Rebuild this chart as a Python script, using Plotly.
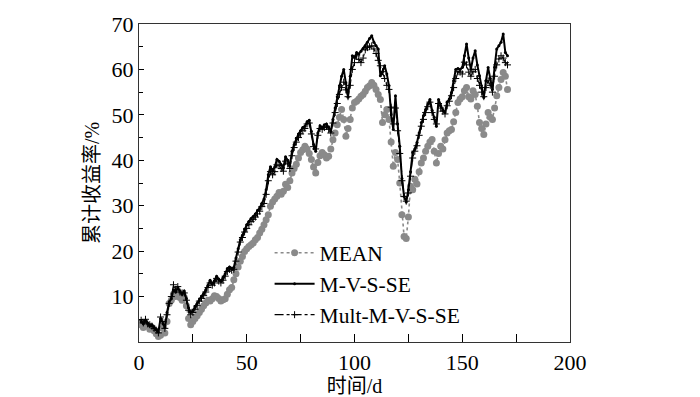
import plotly.graph_objects as go

days = list(range(1, 172))

mean_vals = [
    3.8, 3.2, 4.0, 3.5, 2.8, 3.0, 2.5, 1.8, 1.2, 1.5,
    3.0, 2.0, 4.5, 8.5, 9.2, 10.5, 10.0, 10.8, 9.8, 9.2,
    9.8, 8.0, 5.2, 3.8, 4.5, 5.2, 5.8, 6.5, 7.2, 8.0,
    8.6, 9.2, 9.0, 9.5, 10.2, 10.0, 9.6, 9.0, 9.3, 9.5,
    10.5, 11.5, 12.0, 13.7, 15.0, 16.5, 17.8, 18.8, 19.9, 20.5,
    21.0, 21.4, 21.8, 22.5, 23.0, 24.0, 24.8, 25.8, 26.9, 28.0,
    29.9, 30.8, 31.5, 32.1, 32.9, 32.5, 33.2, 34.7, 34.0, 35.5,
    37.2, 38.2, 39.1, 40.5, 41.7, 42.3, 43.1, 42.5, 41.5, 40.2,
    38.5, 37.2, 39.5, 41.0, 41.7, 41.2, 40.5, 40.9, 42.5, 44.5,
    46.0, 47.8, 49.5, 51.2, 49.0, 45.3, 47.0, 49.0, 51.5, 52.7,
    53.0, 53.5, 54.1, 54.5, 55.2, 56.0, 56.4, 57.1, 56.5, 55.6,
    54.5, 53.4, 48.3, 50.0, 51.2, 49.0, 44.0, 38.7, 41.7, 40.2,
    35.0, 28.0, 23.2, 22.8, 27.5, 34.3, 33.5, 35.8, 34.8, 37.5,
    39.4, 40.5, 42.0, 43.1, 44.0, 44.6, 42.0, 39.4, 41.5, 43.1,
    42.5, 44.5, 46.0, 46.5, 46.8, 48.5, 50.5, 52.7, 53.5, 54.0,
    55.3, 56.0, 54.0, 53.5, 55.3, 54.5, 51.9, 48.3, 47.0, 45.7,
    48.0, 50.5, 49.5, 49.0, 51.5, 54.2, 56.0, 57.8, 59.3, 58.5,
    55.6,
]

mvsse_vals = [
    4.5, 4.0, 4.8, 4.2, 3.5, 3.8, 3.2, 2.8, 2.2, 5.2,
    4.0, 3.2, 6.5, 8.8, 9.5, 11.5, 11.0, 12.0, 11.2, 10.5,
    11.2, 9.6, 7.5, 6.5, 6.8, 7.8, 8.5, 9.2, 10.0, 10.6,
    11.5, 12.5, 13.6, 12.8, 13.5, 14.5, 13.8, 13.4, 14.2, 15.0,
    16.2, 16.5, 16.2, 16.4, 18.5, 20.5, 22.5, 23.5, 24.8, 25.8,
    26.5, 27.2, 27.6, 28.2, 29.0, 29.5, 30.5, 31.5, 33.5, 36.8,
    38.6, 37.8, 38.5, 40.2, 39.8, 39.0, 38.4, 40.8, 40.0, 38.8,
    42.0, 43.5, 44.8, 45.8, 46.5, 47.2, 47.5, 48.5, 48.8, 46.4,
    43.5, 42.0, 46.0, 47.6, 47.2, 47.8, 48.0, 47.2, 46.4, 49.0,
    51.5, 54.0, 56.4, 58.5, 60.0, 57.0, 53.9, 58.5, 63.0, 62.6,
    63.7, 63.4, 64.0, 64.6, 65.2, 66.0, 66.8, 67.4, 66.0, 65.2,
    64.5, 58.6, 59.5, 60.8, 59.0, 56.4, 50.0, 46.8, 54.2, 48.0,
    43.1, 36.0, 32.1, 30.8, 33.5, 37.5, 41.7, 42.5, 43.9, 46.0,
    48.3, 49.8, 51.2, 52.4, 53.4, 51.0, 49.5, 47.5, 53.4, 52.0,
    51.0, 50.5, 52.8, 53.5, 54.9, 57.5, 60.0, 60.2, 60.0, 60.4,
    63.0, 65.6, 62.5, 60.0, 62.5, 64.1, 61.0, 58.6, 56.0, 53.8,
    57.5, 60.4, 58.0, 55.6, 60.5, 64.5, 65.2, 66.0, 67.8, 63.7,
    63.0,
]

mult_vals = [
    4.8, 4.2, 5.0, 4.0, 3.8, 3.5, 3.0, 2.6, 2.0, 5.5,
    4.5, 3.0, 6.0, 8.5, 10.0, 12.6, 11.5, 12.2, 11.0, 10.8,
    10.8, 9.2, 7.0, 6.0, 6.5, 7.2, 8.0, 9.0, 9.6, 10.2,
    11.0, 12.0, 13.0, 12.5, 13.0, 14.0, 13.4, 13.0, 13.6, 14.5,
    15.5, 16.0, 15.8, 16.0, 17.8, 19.8, 22.0, 23.0, 24.2, 25.0,
    25.8, 26.5, 27.0, 27.5, 28.2, 28.8, 29.8, 30.5, 32.5, 35.5,
    37.5, 36.8, 37.5, 39.0, 38.8, 38.2, 37.6, 39.8, 39.2, 38.2,
    41.0, 42.8, 44.0, 45.0, 45.8, 46.5, 47.0, 48.0, 48.2, 45.8,
    43.0, 42.5, 45.5, 47.0, 46.8, 47.2, 47.5, 46.8, 46.0, 48.2,
    50.5, 52.5, 54.5, 56.0, 57.2, 55.5, 54.0, 56.5, 60.0, 61.5,
    63.0, 62.2, 61.5, 62.5, 64.3, 64.8, 65.0, 65.2, 64.5, 63.5,
    62.0, 60.8, 59.5, 58.0, 56.5, 55.6, 51.7, 48.0, 51.5, 46.5,
    41.5, 35.5, 32.0, 31.0, 32.8, 36.5, 40.5, 42.0, 43.2, 45.5,
    47.5, 49.0, 50.5, 51.8, 52.8, 50.5, 49.0, 48.0, 52.5, 51.5,
    50.8, 50.2, 52.0, 53.0, 54.2, 56.0, 58.0, 59.5, 59.4, 59.0,
    61.6, 61.0, 59.4, 58.5, 59.5, 60.0, 58.0, 56.5, 55.0, 54.0,
    56.0, 57.5, 56.5, 55.0, 58.5, 61.0, 62.3, 63.0, 62.5, 61.5,
    61.0,
]

series_names = ["MEAN", "M-V-S-SE", "Mult-M-V-S-SE"]
x_tick_vals = [0, 50, 100, 150, 200]
y_tick_vals = [10, 20, 30, 40, 50, 60, 70]
x_title = "时间/d"
y_title = "累计收益率/%"

FONT = "Liberation Serif, Times New Roman, Noto Sans CJK SC, serif"

fig = go.Figure()
fig.add_trace(go.Scatter(
    x=days, y=mean_vals, name=series_names[0], mode="lines+markers",
    line=dict(color="#8a8a8a", width=1.6, dash="dot"),
    marker=dict(color="#8a8a8a", size=7, symbol="circle"),
))
fig.add_trace(go.Scatter(
    x=days, y=mvsse_vals, name=series_names[1], mode="lines+markers",
    line=dict(color="black", width=2),
    marker=dict(color="black", size=3, symbol="circle"),
))
fig.add_trace(go.Scatter(
    x=days, y=mult_vals, name=series_names[2], mode="lines+markers",
    line=dict(color="black", width=1.1, dash="dashdot"),
    marker=dict(color="black", size=5, symbol="cross-thin",
                line=dict(color="black", width=1)),
))

# page body has an 8px margin, so the figure is drawn 8px smaller and offset
fig.update_layout(
    width=692, height=389,
    margin=dict(l=131, r=130, t=16, b=55),
    paper_bgcolor="white", plot_bgcolor="white",
    font=dict(family=FONT, size=20, color="black"),
    showlegend=True,
    legend=dict(x=0.303, y=0.345, xanchor="left", yanchor="top",
                bgcolor="rgba(0,0,0,0)", font=dict(size=21.5, family=FONT),
                tracegroupgap=0, itemwidth=40),
)
fig.update_xaxes(
    range=[0, 200], tickvals=x_tick_vals, ticks="inside", ticklen=8,
    tickwidth=1, tickcolor="black", automargin=False,
    minor=dict(dtick=25, tick0=0, ticks="inside", ticklen=8, tickcolor="black"),
    showline=True, linecolor="#333333", linewidth=1.3, mirror=True,
    showgrid=False, zeroline=False,
    title=dict(text=x_title, font=dict(size=20, family=FONT), standoff=3),
    tickfont=dict(size=22, family=FONT),
)
fig.update_yaxes(
    range=[0, 70], tickvals=y_tick_vals, ticks="inside", ticklen=5,
    tickwidth=1, tickcolor="black", automargin=False,
    minor=dict(dtick=5, tick0=0, ticks="inside", ticklen=4, tickcolor="black"),
    showline=True, linecolor="#333333", linewidth=1.3, mirror=True,
    showgrid=False, zeroline=False,
    title=dict(text=y_title, font=dict(size=20, family=FONT), standoff=6),
    tickfont=dict(size=22, family=FONT),
)

fig.write_html("out.html")
